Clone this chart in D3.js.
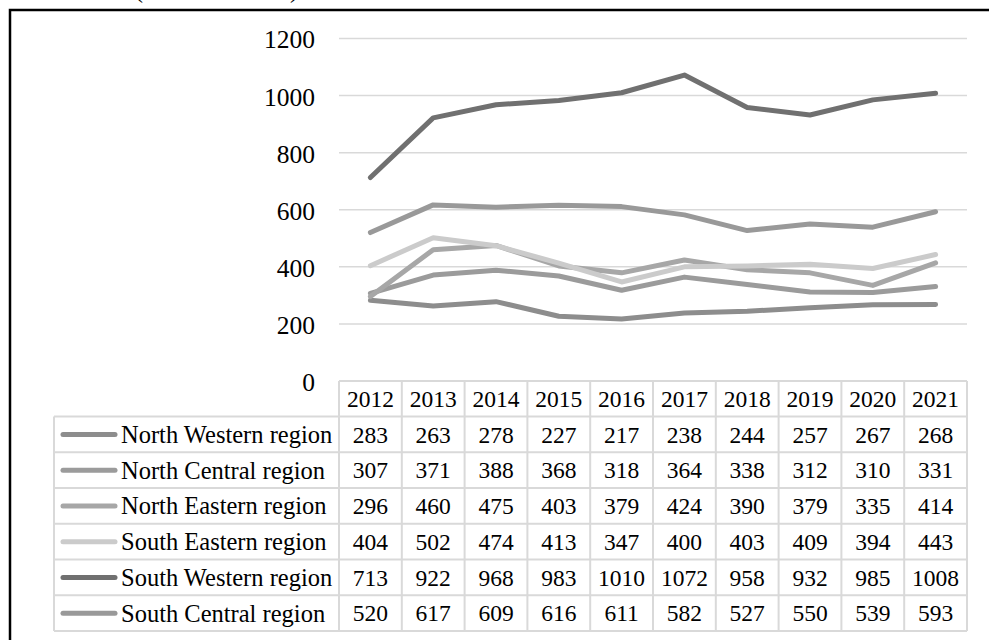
<!DOCTYPE html>
<html>
<head>
<meta charset="utf-8">
<script src="https://cdn.jsdelivr.net/npm/d3@7"></script>
<style>
  html, body { margin: 0; padding: 0; background: #fff; }
  svg { display: block; font-family: "Liberation Serif", "Times New Roman", serif; }
</style>
</head>
<body>
<svg id="chart" width="989" height="640"></svg>
<script>
// --- data ---
const years = ['2012','2013','2014','2015','2016','2017','2018','2019','2020','2021'];
const regions = ['North Western region','North Central region','North Eastern region',
                 'South Eastern region','South Western region','South Central region'];
const northWestern = [283, 263, 278, 227, 217, 238, 244, 257, 267, 268];
const northCentral = [307, 371, 388, 368, 318, 364, 338, 312, 310, 331];
const northEastern = [296, 460, 475, 403, 379, 424, 390, 379, 335, 414];
const southEastern = [404, 502, 474, 413, 347, 400, 403, 409, 394, 443];
const southWestern = [713, 922, 968, 983, 1010, 1072, 958, 932, 985, 1008];
const southCentral = [520, 617, 609, 616, 611, 582, 527, 550, 539, 593];
const yTicks = [0, 200, 400, 600, 800, 1000, 1200];
const colors = ['#8d8d8d', '#9b9b9b', '#a7a7a7', '#cbcbcb', '#707070', '#999999'];

const series = [northWestern, northCentral, northEastern, southEastern, southWestern, southCentral]
  .map((vals, i) => ({ name: regions[i], color: colors[i], values: vals }));

// --- layout ---
const svg = d3.select('#chart');
const plotL = 339, plotR = 967, plotT = 38.5, plotB = 381;
const legendL = 54;
const headerH = 35.5, rowH = 35.75;

// title sits above the frame; only its bottom edge is in view
svg.append('text')
  .attr('x', 135).attr('y', -2)
  .attr('font-size', 24)
  .attr('textLength', 163)
  .text('(in thousands)');

// outer frame (runs off the right and bottom edge)
svg.append('rect')
  .attr('x', 10).attr('y', 10)
  .attr('width', 1100).attr('height', 800)
  .attr('fill', 'none').attr('stroke', '#000').attr('stroke-width', 2.5);

const x = d3.scaleBand().domain(years).range([plotL, plotR]);
const y = d3.scaleLinear().domain([0, 1200]).range([plotB, plotT]);

// gridlines
svg.append('g').selectAll('line')
  .data(yTicks.filter(t => t > 0))
  .join('line')
  .attr('x1', plotL).attr('x2', plotR)
  .attr('y1', d => y(d)).attr('y2', d => y(d))
  .attr('stroke', '#d9d9d9').attr('stroke-width', 1.5);

// y axis labels
svg.append('g').selectAll('text')
  .data(yTicks)
  .join('text')
  .attr('x', 315)
  .attr('y', d => y(d) + 1)
  .attr('dy', '0.35em')
  .attr('text-anchor', 'end')
  .attr('font-size', 25.5)
  .text(d => d);

// lines
const line = d3.line()
  .x((d, i) => x(years[i]) + x.bandwidth() / 2)
  .y(d => y(d));

svg.append('g').selectAll('path')
  .data(series)
  .join('path')
  .attr('d', d => line(d.values))
  .attr('fill', 'none')
  .attr('stroke', d => d.color)
  .attr('stroke-width', 5)
  .attr('stroke-linejoin', 'round')
  .attr('stroke-linecap', 'round');

// --- data table ---
const tbl = svg.append('g');
const gridColor = '#d9d9d9';
const rowTop = plotB + headerH;
const tableB = rowTop + rowH * regions.length;
const numSize = 23.5;

// header cells (years)
tbl.append('g').selectAll('text')
  .data(years)
  .join('text')
  .attr('x', d => x(d) + x.bandwidth() / 2)
  .attr('y', plotB + headerH / 2)
  .attr('dy', '0.35em')
  .attr('text-anchor', 'middle')
  .attr('font-size', numSize)
  .text(d => d);

// horizontal rules
const hLines = [{ y: plotB, x1: plotL }].concat(
  d3.range(regions.length + 1).map(i => ({ y: rowTop + i * rowH, x1: legendL })));
tbl.append('g').selectAll('line')
  .data(hLines)
  .join('line')
  .attr('x1', d => d.x1).attr('x2', plotR)
  .attr('y1', d => d.y).attr('y2', d => d.y)
  .attr('stroke', gridColor).attr('stroke-width', 2);

// vertical rules
const vLines = years.map(yr => x(yr)).concat([plotR]);
tbl.append('g').selectAll('line')
  .data(vLines)
  .join('line')
  .attr('x1', d => d).attr('x2', d => d)
  .attr('y1', plotB).attr('y2', tableB)
  .attr('stroke', gridColor).attr('stroke-width', 2);
tbl.append('line')
  .attr('x1', legendL).attr('x2', legendL)
  .attr('y1', rowTop).attr('y2', tableB)
  .attr('stroke', gridColor).attr('stroke-width', 2);

// rows: legend key + values
const rows = tbl.append('g').selectAll('g')
  .data(series)
  .join('g')
  .attr('transform', (d, i) => `translate(0,${rowTop + i * rowH + rowH / 2})`);

rows.append('line')
  .attr('x1', 63).attr('x2', 115)
  .attr('y1', 0).attr('y2', 0)
  .attr('stroke', d => d.color)
  .attr('stroke-width', 5)
  .attr('stroke-linecap', 'round');

rows.append('text')
  .attr('x', 121)
  .attr('dy', '0.35em')
  .attr('font-size', 24.5)
  .text(d => d.name);

rows.selectAll('text.val')
  .data(d => d.values)
  .join('text')
  .attr('class', 'val')
  .attr('x', (d, i) => x(years[i]) + x.bandwidth() / 2)
  .attr('dy', '0.35em')
  .attr('text-anchor', 'middle')
  .attr('font-size', numSize)
  .text(d => d);
</script>
</body>
</html>
